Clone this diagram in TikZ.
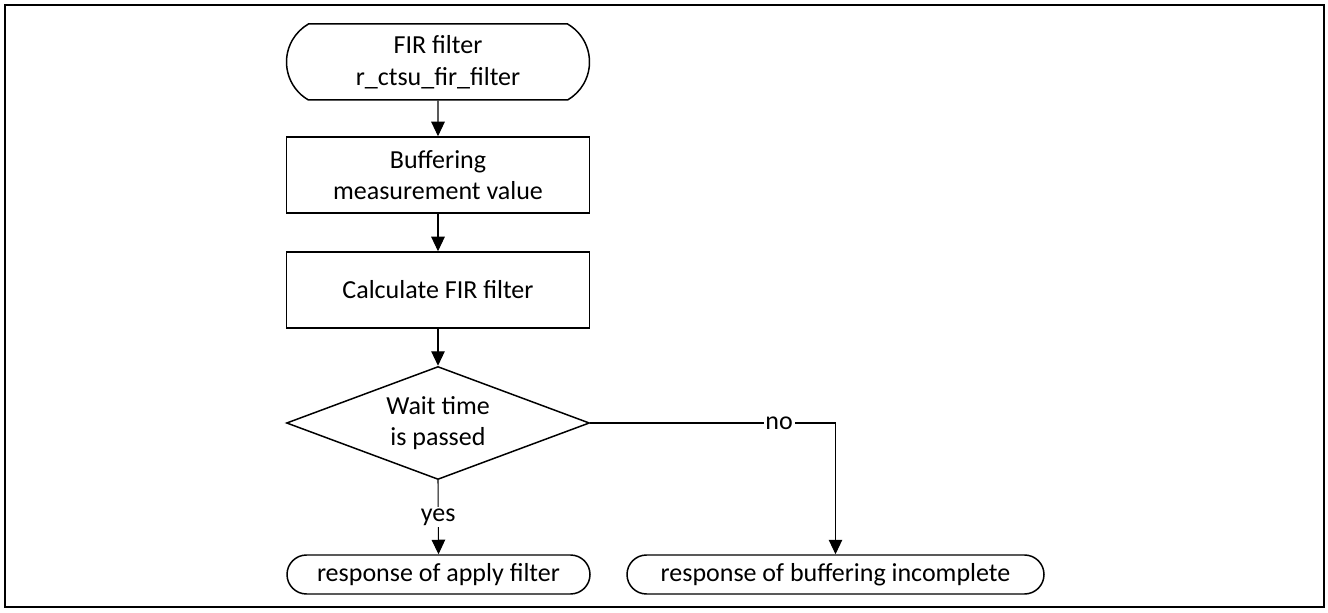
\documentclass[tikz,border=0pt]{standalone}
\usepackage{fontspec}
\setmainfont{Carlito}
\usepackage{tikz}
\usetikzlibrary{shapes.geometric,shapes.misc,arrows.meta}

\begin{document}
\begin{tikzpicture}[>={Triangle[length=2.9mm,width=2.7mm]},
    every node/.style={font=\fontsize{14.8}{18}\selectfont, align=center},
    terminal/.style={draw, line width=.85pt, rounded rectangle, rounded rectangle arc length=#1,
      minimum height=.78cm, inner sep=0pt},
    proc/.style={draw, line width=.85pt, rectangle, minimum width=6.06cm, minimum height=1.52cm, inner sep=0pt},
    decide/.style={draw, line width=.85pt, diamond, aspect=2.68, minimum width=6.06cm, minimum height=2.26cm, inner sep=0pt},
    lbl/.style={fill=white, inner sep=1pt},
    flow/.style={->, line width=.6pt}]
        % background
        \useasboundingbox (0,0) rectangle (26.56,12.24);
        \draw[line width=1.1pt] (0.1,0.1) rectangle (26.48,12.14);

        % main column
        \node[terminal=120, minimum width=6.06cm, minimum height=1.52cm] (firstart) at (8.76,11.0) {FIR filter\\r\_ctsu\_fir\_filter};
        \node[proc] (buffer) at (8.76,8.74) {Buffering\\measurement value};
        \node[proc] (calc) at (8.76,6.44) {Calculate FIR filter};
        \node[decide] (wait) at (8.76,3.78) {Wait time\\is passed};

        % results
        \node[terminal=180, minimum width=6.06cm] (applied) at (8.77,0.75) {response of apply filter};
        \node[terminal=180, minimum width=8.34cm] (incomp) at (16.71,0.75) {response of buffering incomplete};

        \draw[flow] (firstart) -- (buffer);
        \draw[flow] (buffer) -- (calc);
        \draw[flow] (calc) -- (wait);
        \draw[flow] (wait.south) -- node[lbl] {yes} (applied.north);
        \draw[flow] (wait.east) -- node[lbl, pos=.77] {no} (wait.east -| incomp.north) -- (incomp.north);
      \end{tikzpicture}
\end{document}
